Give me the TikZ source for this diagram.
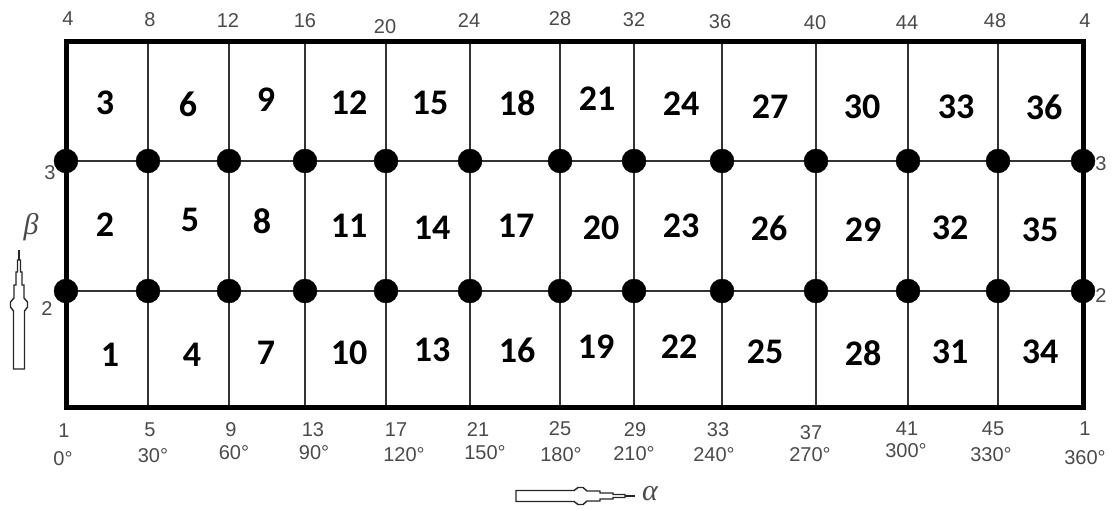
\documentclass[tikz,border=0pt]{standalone}
\usepackage{fontspec}
\newfontfamily\cellfont{Carlito}
\newfontfamily\lblfont{Liberation Sans}
\newfontfamily\greekfont{Liberation Serif}
\definecolor{lblgray}{HTML}{4A4A4A}
\tikzset{
  gridline/.style={line width=1.6pt, draw=black!80},
  frame/.style={line width=5pt, draw=black},
  dot/.style={circle, fill=black, draw=black, minimum size=24pt, inner sep=0pt},
  cell/.style={font=\cellfont\bfseries\fontsize{36}{36}\selectfont, text=black, inner sep=0pt},
  lbl/.style={font=\lblfont\fontsize{20}{20}\selectfont, text=lblgray, inner sep=0pt},
  axis/.style={font=\greekfont\itshape\fontsize{30}{30}\selectfont, text=lblgray, inner sep=0pt},
  penarrow/.pic={
    \draw[line width=1.4pt, draw=black!85, fill=white]
      (0,-5.5) -- (58,-5.5) .. controls (60,-5.5) and (60,-8.5) .. (62,-8.5) -- (67,-8.5)
      .. controls (69,-8.5) and (69,-5) .. (71,-5) -- (84,-5) -- (84,-3) -- (97,-3)
      -- (97,-1.5) -- (109,-1.5) -- (109,1.5) -- (97,1.5) -- (97,3) -- (84,3) -- (84,5)
      -- (71,5) .. controls (69,5) and (69,8.5) .. (67,8.5) -- (62,8.5)
      .. controls (60,8.5) and (60,5.5) .. (58,5.5) -- (0,5.5) -- cycle;
    \draw[line width=1.4pt, draw=black!85] (109,0) -- (119,0);
  }
}
\begin{document}
\begin{tikzpicture}[x=1pt,y=-1pt]
\useasboundingbox (0,0) rectangle (1120,511);
% grid coordinates
\foreach \x [count=\i] in {66,148,229,305,386,470,560,634,722,816,908,998,1083} {
  \coordinate (t\i) at (\x,42);
  \coordinate (b\i) at (\x,407);
  \coordinate (u\i) at (\x,161);
  \coordinate (l\i) at (\x,291);
}
% inner lines
\foreach \i in {2,...,12} { \draw[gridline] (t\i) -- (b\i); }
\draw[gridline] (u1) -- (u13);
\draw[gridline] (l1) -- (l13);
% frame
\draw[frame] (t1) rectangle (b13);
% dots
\foreach \i in {1,...,13} {
  \node[dot] (du\i) at (u\i) {};
  \node[dot] (dl\i) at (l\i) {};
}
% cell numbers: top row
\node[cell] (c3) at (105,103) {3};
\node[cell] (c6) at (188,104) {6};
\node[cell] (c9) at (266,100) {9};
\node[cell] (c12) at (349,103) {12};
\node[cell] (c15) at (430,103) {15};
\node[cell] (c18) at (517,103) {18};
\node[cell] (c21) at (597,99) {21};
\node[cell] (c24) at (681,104) {24};
\node[cell] (c27) at (770,107) {27};
\node[cell] (c30) at (862,107) {30};
\node[cell] (c33) at (956,107) {33};
\node[cell] (c36) at (1044,107) {36};
% middle row
\node[cell] (c2) at (105,225) {2};
\node[cell] (c5) at (190,220) {5};
\node[cell] (c8) at (262,221) {8};
\node[cell] (c11) at (349,226) {11};
\node[cell] (c14) at (432,228) {14};
\node[cell] (c17) at (516,226) {17};
\node[cell] (c20) at (601,228) {20};
\node[cell] (c23) at (681,226) {23};
\node[cell] (c26) at (769,228) {26};
\node[cell] (c29) at (863,230) {29};
\node[cell] (c32) at (950,228) {32};
\node[cell] (c35) at (1040,230) {35};
% bottom row
\node[cell] (c1) at (110,355) {1};
\node[cell] (c4) at (192,355) {4};
\node[cell] (c7) at (266,353) {7};
\node[cell] (c10) at (349,353) {10};
\node[cell] (c13) at (432,350) {13};
\node[cell] (c16) at (517,350) {16};
\node[cell] (c19) at (596,347) {19};
\node[cell] (c22) at (679,347) {22};
\node[cell] (c25) at (765,352) {25};
\node[cell] (c28) at (863,353) {28};
\node[cell] (c31) at (950,352) {31};
\node[cell] (c34) at (1040,352) {34};
% top labels
\node[lbl] (tl1) at (68,19) {4};
\node[lbl] (tl2) at (150,20) {8};
\node[lbl] (tl3) at (228,21) {12};
\node[lbl] (tl4) at (305,21) {16};
\node[lbl] (tl5) at (385,27) {20};
\node[lbl] (tl6) at (469,21) {24};
\node[lbl] (tl7) at (560,19) {28};
\node[lbl] (tl8) at (634,20) {32};
\node[lbl] (tl9) at (720,22) {36};
\node[lbl] (tl10) at (815,23) {40};
\node[lbl] (tl11) at (907,23) {44};
\node[lbl] (tl12) at (995,21) {48};
\node[lbl] (tl13) at (1085,21) {4};
% side labels
\node[lbl] (sl3) at (50,173) {3};
\node[lbl] (sl2) at (47,309) {2};
\node[lbl] (sr3) at (1101,164) {3};
\node[lbl] (sr2) at (1101,296) {2};
% bottom labels
\node[lbl] (bl1) at (64,431) {1};
\node[lbl] (bl2) at (150,430) {5};
\node[lbl] (bl3) at (231,430) {9};
\node[lbl] (bl4) at (313,430) {13};
\node[lbl] (bl5) at (396,430) {17};
\node[lbl] (bl6) at (478,430) {21};
\node[lbl] (bl7) at (560,429) {25};
\node[lbl] (bl8) at (635,430) {29};
\node[lbl] (bl9) at (718,430) {33};
\node[lbl] (bl10) at (811,433) {37};
\node[lbl] (bl11) at (907,429) {41};
\node[lbl] (bl12) at (993,429) {45};
\node[lbl] (bl13) at (1085,429) {1};
\node[lbl] (dg1) at (63,459) {0°};
\node[lbl] (dg2) at (153,456) {30°};
\node[lbl] (dg3) at (234,453) {60°};
\node[lbl] (dg4) at (314,453) {90°};
\node[lbl] (dg5) at (404,455) {120°};
\node[lbl] (dg6) at (485,453) {150°};
\node[lbl] (dg7) at (561,455) {180°};
\node[lbl] (dg8) at (634,454) {210°};
\node[lbl] (dg9) at (714,455) {240°};
\node[lbl] (dg10) at (810,455) {270°};
\node[lbl] (dg11) at (906,451) {300°};
\node[lbl] (dg12) at (991,455) {330°};
\node[lbl] (dg13) at (1085,458) {360°};
% axes
\node[axis] (beta) at (31,227) {β};
\pic[rotate=90] at (19,369) {penarrow};
\pic at (516,496) {penarrow};
\node[axis] (alpha) at (650,494) {α};
\end{tikzpicture}
\end{document}
